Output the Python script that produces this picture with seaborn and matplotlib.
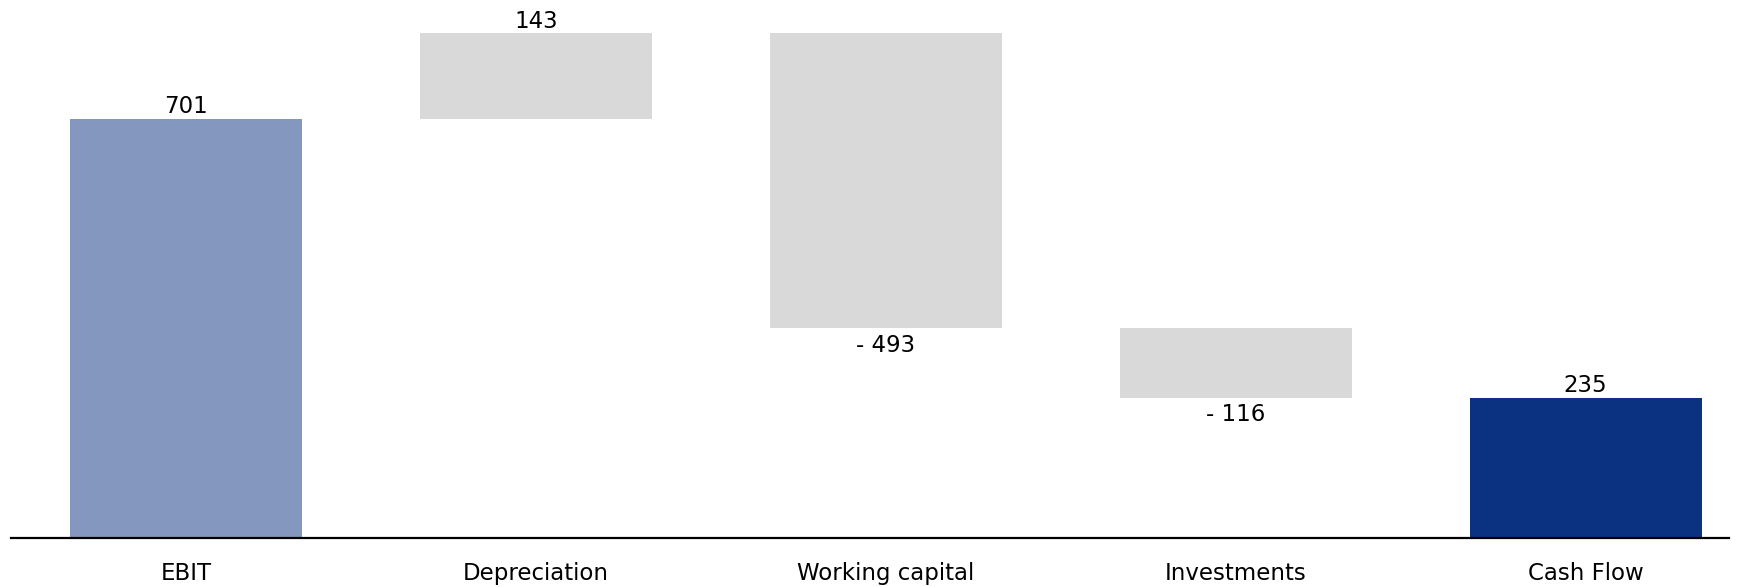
import matplotlib
matplotlib.use("Agg")
import matplotlib.pyplot as plt
import seaborn as sns
import numpy as np

categories = ["EBIT", "Depreciation", "Working capital", "Investments", "Cash Flow"]
changes = [701, 143, -493, -116, 235]
kinds = ["total", "delta", "delta", "delta", "total"]
colors = ["#8497BE", "#D9D9D9", "#D9D9D9", "#D9D9D9", "#0B3281"]

# waterfall geometry: running total gives each floating bar its base
bottoms, heights = [], []
running = 0
for val, kind in zip(changes, kinds):
    if kind == "total":
        bottoms.append(0)
        heights.append(val)
        running = val
    else:
        start = running
        running += val
        bottoms.append(min(start, running))
        heights.append(abs(val))

sns.set_theme(style="white")
plt.rcParams["font.family"] = ["DejaVu Sans"]

FS = 16.5

fig = plt.figure(figsize=(17.42, 5.87), dpi=100)
ax = fig.add_axes([11 / 1742, 49 / 587, (1729 - 11) / 1742, 538 / 587])

sns.barplot(x=categories, y=heights, bottom=bottoms, order=categories,
            width=0.663, errorbar=None, color=colors[0], ax=ax,
            linewidth=0, saturation=1)
for patch, col in zip(ax.patches, colors):
    patch.set_facecolor(col)
    patch.set_edgecolor("none")

# value labels: above the top for increases/totals, below the bottom for decreases
for i, (val, b, h) in enumerate(zip(changes, bottoms, heights)):
    if val >= 0:
        ax.annotate(f"{val}", (i, b + h), xytext=(0, 0.5), textcoords="offset points",
                    ha="center", va="bottom", fontsize=FS, color="black")
    else:
        ax.annotate(f"- {abs(val)}", (i, b), xytext=(0, -4), textcoords="offset points",
                    ha="center", va="top", fontsize=FS, color="black")

ax.set_xlim(-0.5, 4.41)
ax.set_ylim(0, 900)
ax.set_yticks([])
ax.set_ylabel("")
for side in ["top", "left", "right"]:
    ax.spines[side].set_visible(False)
ax.spines["bottom"].set_color("black")
ax.spines["bottom"].set_linewidth(1.6)
ax.tick_params(axis="x", length=0, pad=17, labelsize=FS, labelcolor="black")

fig.savefig("out.png", dpi=100)
